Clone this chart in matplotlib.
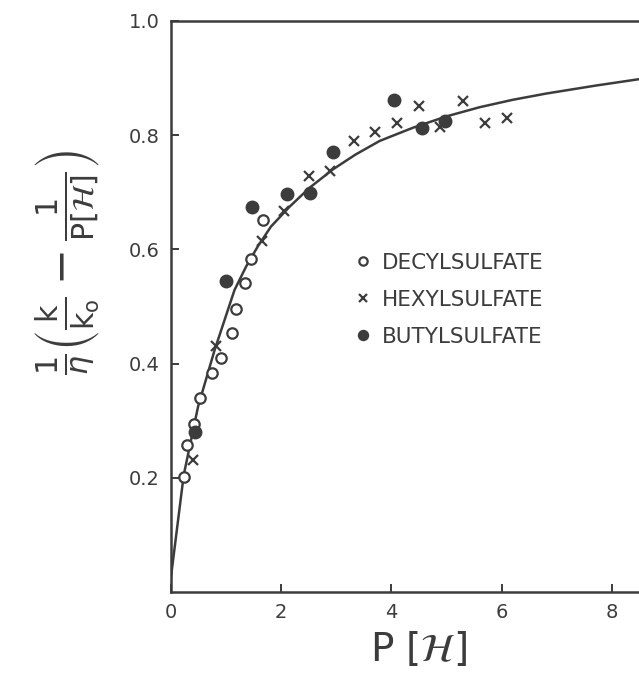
import matplotlib
matplotlib.use('Agg')
import matplotlib.pyplot as plt

decyl_x = [0.24, 0.30, 0.43, 0.54, 0.75, 0.92, 1.11, 1.18, 1.35, 1.46, 1.68]
decyl_y = [0.202, 0.257, 0.295, 0.339, 0.384, 0.410, 0.453, 0.496, 0.542, 0.583, 0.651]

hexyl_x = [0.40, 0.83, 1.66, 2.05, 2.50, 2.89, 3.33, 3.71, 4.10, 4.50, 4.89, 5.30, 5.69, 6.09]
hexyl_y = [0.232, 0.430, 0.615, 0.668, 0.729, 0.737, 0.790, 0.806, 0.822, 0.852, 0.815, 0.860, 0.821, 0.830]

butyl_x = [0.45, 1.01, 1.47, 2.11, 2.52, 2.95, 4.04, 4.56, 4.98]
butyl_y = [0.281, 0.545, 0.674, 0.697, 0.698, 0.771, 0.862, 0.812, 0.825]

curve_x = [0.0, 0.24, 0.50, 0.80, 1.16, 1.37, 1.58, 1.82, 2.16, 2.52, 2.94, 3.35, 3.79,
           4.39, 5.00, 5.60, 6.20, 6.81, 7.71, 8.48, 9.0]
curve_y = [0.02, 0.205, 0.325, 0.424, 0.529, 0.570, 0.605, 0.640, 0.675, 0.708, 0.740, 0.766, 0.790,
           0.813, 0.833, 0.849, 0.862, 0.873, 0.887, 0.898, 0.905]

xticks = [0, 2, 4, 6, 8]
yticks = [0.2, 0.4, 0.6, 0.8, 1.0]

ink = '#3c3c3c'
plt.rcParams['mathtext.fontset'] = 'dejavusans'

fig = plt.figure(figsize=(6.39, 6.82), dpi=100)
ax = fig.add_axes([170.5 / 639, 90 / 682, 9 * 55.2 / 639, 571 / 682])

ax.plot(curve_x, curve_y, color=ink, lw=1.8, zorder=2)
ax.plot(decyl_x, decyl_y, 'o', ms=7.5, mfc='white', mec=ink, mew=1.6, ls='none',
        label='DECYLSULFATE', zorder=3)
ax.plot(hexyl_x, hexyl_y, 'x', ms=6.5, mec=ink, mew=1.6, ls='none',
        label='HEXYLSULFATE', zorder=3)
ax.plot(butyl_x, butyl_y, 'o', ms=9, mfc=ink, mec=ink, ls='none',
        label='BUTYLSULFATE', zorder=3)

ax.set_xlim(0, 9)
ax.set_ylim(0, 1.0)
ax.set_xticks(xticks)
ax.set_xticklabels([str(t) for t in xticks])
ax.set_yticks(yticks)
ax.set_yticklabels(['%.1f' % t for t in yticks])
ax.tick_params(direction='in', length=6, width=1.4, colors=ink, labelsize=14, pad=8)
for s in ax.spines.values():
    s.set_color(ink)
    s.set_linewidth(1.8)

ax.set_xlabel(r'P $[\mathcal{H}]$', fontsize=28, color=ink, labelpad=6)
fig.text(68 / 639, 1 - 262 / 682,
         r'$\frac{\mathrm{1}}{\eta}\left(\frac{\mathrm{k}}{\mathrm{k_o}}-'
         r'\frac{\mathrm{1}}{\mathrm{P}[\mathcal{H}]}\right)$',
         rotation=90, fontsize=31, color=ink, ha='center', va='center')

leg = ax.legend(loc='upper left', bbox_to_anchor=(355 / 639, 429 / 682),
                bbox_transform=fig.transFigure, frameon=False, fontsize=15.5,
                handlelength=0.7, handletextpad=0.55, labelspacing=0.78,
                borderpad=0, borderaxespad=0, markerscale=0.8)
for t in leg.get_texts():
    t.set_color(ink)

fig.savefig('out.png', dpi=100, facecolor='white')
